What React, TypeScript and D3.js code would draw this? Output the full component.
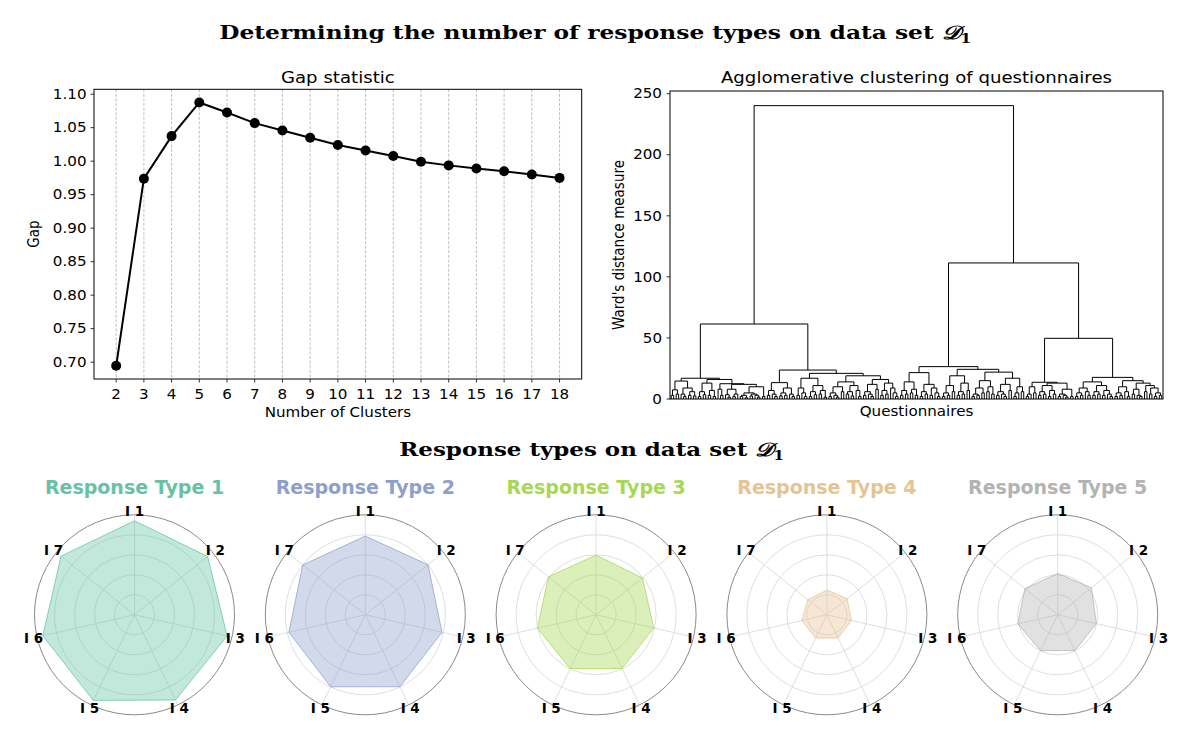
import React from "react";
import * as d3 from "d3";

const W = 1200;
const H = 744;

// ---------- Gap statistic ----------
const gapClusters = [2, 3, 4, 5, 6, 7, 8, 9, 10, 11, 12, 13, 14, 15, 16, 17, 18];
const gapValues = [0.6945, 0.9738, 1.0374, 1.0876, 1.0727, 1.0568, 1.0458, 1.0349, 1.024, 1.016, 1.0076, 0.999, 0.9937, 0.989, 0.985, 0.98, 0.975];
const gapYTicks = [0.7, 0.75, 0.8, 0.85, 0.9, 0.95, 1.0, 1.05, 1.1];

// ---------- Dendrogram (Ward) ----------
const dendroYTicks = [0, 50, 100, 150, 200, 250];
// root merge, left branch merge, right branch merge
const dendroMajorHeights = [240.2, 61.4, 111.4];
// sub-clusters written as (height left right), "o" = questionnaire leaf
const LL_A = "(14.7 (7.5 (3 o o) (4 o o)) (9 (4 o (2 o o)) (6 (3 o o) (2.5 o o))))";
const LL_B1 = "(13 (6 (2 o o) (3.5 o o)) (7 (3 o o) (2 o o)))";
const LL_B2a = "(8 o (3 o o))";
const LL_B2b1 = "(8 (3.5 o (1.5 o o)) (4 (2 o o) o))";
const LL_B2b2 = "(10 (5 (3 (2 o o) (1 o o)) (4 (2.5 o o) (3 o (1.5 o o)))) (2 o o))";
const LR_A = "(13.4 (7 (3 o o) (4 o (2 o o))) (9 (5 (2.5 o o) (3 o o)) (4 o (2 o o))))";
const LR_B1 = "(17 (9 (3 o o) (5 o (2 o o))) (11 (6 (2 o o) (3.5 o o)) (7 (4 o o) (1.5 o o))))";
const LR_B2a = "(14 (10 (5 (2 o o) (3 o (1.5 o o))) (6 o o)) (11 (6 (4 o o) (2.5 o o)) (7 o (2 o o))))";
const LR_B2b = "(16 (12 (6 (3 o o) (4 o (2 o o))) (8 o o)) (13 (7 (3 o o) (4 o o)) (9 o (5 o (2 o o)))))";
const RL_A1 = "(14 (7 (3 o o) (4 o o)) (8 (5 o o) (3 o o)))";
const RL_A2 = "(12 (6 (2 o o) (4 o o)) (9 (3 o o) (5 o (2 o o))))";
const RL_B1 = "(19 (11 (5 (2 o o) (3 o o)) (6 o o)) (13 (6 (3 o o) (4 o o)) (7 o o)))";
const RL_B2a = "(15 (9 (4 (2 o o) (3 o o)) (5 o o)) (10 (6 o o) (4 o o)))";
const RL_B2b = "(17 (12 (6 (3 o o) (4 o (2 o o))) (7 o o)) (10 (5 (2 o o) o) (6 o o)))";
const RR_A1 = "(10 (4 (2 o o) o) (5 o o))";
const RR_A2a = "(11 (6 (3 o o) (4 o o)) (7 (2 o o) (4 o o)))";
const RR_A2b = "(8 (4 (2 o o) (3 o (1.5 o o))) (2 o o))";
const RR_B1 = "(14 (9 (5 (2 o o) (3 o o)) (6 o (3 o o))) (11 (6 (3 o o) (4 o o)) (7 (3 o o) (4 o (2 o o)))))";
const RR_B2 = "(15 (10 (5 (2 o o) (3 o o)) (6 o (2 o o))) (13 (8 (4 o o) (3 o (2 o o))) (11 (6 o o) (9 (4 o o) (5 (2 o o) (3 o o))))))";

const LL = `(17 ${LL_A} (16 ${LL_B1} (12.5 ${LL_B2a} (12 ${LL_B2b1} ${LL_B2b2}))))`;
const LR = `(23.7 ${LR_A} (21 ${LR_B1} (19 ${LR_B2a} ${LR_B2b})))`;
const RL = `(26.5 (21.6 ${RL_A1} ${RL_A2}) (24.3 ${RL_B1} (22 ${RL_B2a} ${RL_B2b})))`;
const RR = `(49.7 (13.7 ${RR_A1} (13 ${RR_A2a} ${RR_A2b})) (17.7 ${RR_B1} ${RR_B2}))`;
const DENDRO_TREE = `(${dendroMajorHeights[0]} (${dendroMajorHeights[1]} ${LL} ${LR}) (${dendroMajorHeights[2]} ${RL} ${RR}))`;

// ---------- Radar charts ----------
const radarItems = ["I 1", "I 2", "I 3", "I 4", "I 5", "I 6", "I 7"];
const responseTypeNames = ["Response Type 1", "Response Type 2", "Response Type 3", "Response Type 4", "Response Type 5"];
const responseTypeColors = ["#66c2a5", "#8da0cb", "#a6d854", "#e5c494", "#b3b3b3"];
const responseType1 = [0.94, 0.935, 0.95, 0.945, 0.95, 0.94, 0.94];
const responseType2 = [0.787, 0.802, 0.787, 0.798, 0.799, 0.784, 0.8];
const responseType3 = [0.597, 0.592, 0.592, 0.595, 0.597, 0.602, 0.61];
const responseType4 = [0.247, 0.259, 0.251, 0.258, 0.258, 0.257, 0.244];
const responseType5 = [0.413, 0.432, 0.397, 0.397, 0.397, 0.409, 0.42];
const radarRings = [0.2, 0.4, 0.6, 0.8];

// ---------- helpers ----------
type TNode = { h: number; children?: [TNode, TNode]; x?: number };

function parseTree(s: string): TNode {
  const tokens = s.match(/\(|\)|[^\s()]+/g) || [];
  let i = 0;
  function node(): TNode {
    const t = tokens[i++];
    if (t === "o") return { h: 0 };
    if (t !== "(") throw new Error("bad token " + t + " at " + i);
    const h = parseFloat(tokens[i++]);
    const a = node();
    const b = node();
    if (tokens[i++] !== ")") throw new Error("expected ) at " + i);
    return { h, children: [a, b] };
  }
  const root = node();
  if (i !== tokens.length) throw new Error("trailing tokens " + (tokens.length - i));
  return root;
}

const SX = 1.12; // horizontal stretch of the upper figure's text
const SANS = "DejaVu Sans";

function SText(props: {
  x: number; y: number; anchor?: string; size?: number; rot?: boolean; baseline?: string; children: React.ReactNode; weight?: string;
}) {
  const { x, y, anchor = "middle", size = 13.5, rot = false, baseline, children, weight } = props;
  return (
    <text
      transform={`translate(${x},${y}) scale(${SX},1)${rot ? " rotate(-90)" : ""}`}
      textAnchor={anchor as any}
      dominantBaseline={baseline as any}
      fontSize={size}
      fontFamily={SANS}
      fontWeight={weight}
      fill="#000"
    >
      {children}
    </text>
  );
}

function GapChart() {
  const left = 94, right = 581.7, top = 89.3, bottom = 379;
  const [xmin, xmax] = d3.extent(gapClusters) as [number, number];
  const [ymin, ymax] = d3.extent(gapValues) as [number, number];
  const xm = (xmax - xmin) * 0.05;
  const ym = (ymax - ymin) * 0.05;
  const x = d3.scaleLinear().domain([xmin - xm, xmax + xm]).range([left, right]);
  const y = d3.scaleLinear().domain([ymin - ym, ymax + ym]).range([bottom, top]);
  const line = d3.line<number>().x((_, i) => x(gapClusters[i])).y((d) => y(d));
  const fmt = d3.format(".2f");
  return (
    <g>
      {gapClusters.map((c) => (
        <line key={"g" + c} x1={x(c)} x2={x(c)} y1={top} y2={bottom} stroke="#b0b0b0" strokeWidth={0.8} strokeDasharray="3,1.6" />
      ))}
      <path d={line(gapValues) || ""} fill="none" stroke="#000" strokeWidth={2} />
      {gapValues.map((v, i) => (
        <circle key={"m" + i} cx={x(gapClusters[i])} cy={y(v)} r={5} fill="#000" />
      ))}
      <rect x={left} y={top} width={right - left} height={bottom - top} fill="none" stroke="#000" strokeWidth={1} />
      {gapClusters.map((c) => (
        <g key={"xt" + c}>
          <line x1={x(c)} x2={x(c)} y1={bottom} y2={bottom + 3.5} stroke="#000" strokeWidth={0.8} />
          <SText x={x(c)} y={398.5}>{String(c)}</SText>
        </g>
      ))}
      {gapYTicks.map((t) => (
        <g key={"yt" + t}>
          <line x1={left - 3.5} x2={left} y1={y(t)} y2={y(t)} stroke="#000" strokeWidth={0.8} />
          <SText x={86.5} y={y(t)} anchor="end" baseline="central">{fmt(t)}</SText>
        </g>
      ))}
      <SText x={(left + right) / 2} y={82.5} size={16.2}>Gap statistic</SText>
      <SText x={(left + right) / 2} y={416.5}>Number of Clusters</SText>
      <SText x={39} y={(top + bottom) / 2} rot>Gap</SText>
    </g>
  );
}

function Dendrogram() {
  const left = 670, right = 1163, top = 91, bottom = 399;
  const root = parseTree(DENDRO_TREE);
  const leaves: TNode[] = [];
  const collect = (n: TNode) => {
    if (!n.children) leaves.push(n);
    else { collect(n.children[0]); collect(n.children[1]); }
  };
  collect(root);
  const n = leaves.length;
  const x = d3.scaleLinear().domain([0, 10 * n]).range([left, right]);
  const y = d3.scaleLinear().domain([0, 252.2]).range([bottom, top]);
  leaves.forEach((l, i) => (l.x = x(5 + 10 * i)));
  const paths: string[] = [];
  const place = (nd: TNode): number => {
    if (!nd.children) return nd.x as number;
    const xa = place(nd.children[0]);
    const xb = place(nd.children[1]);
    nd.x = (xa + xb) / 2;
    paths.push(`M${xa},${y(nd.children[0].h)}V${y(nd.h)}H${xb}V${y(nd.children[1].h)}`);
    return nd.x;
  };
  place(root);
  return (
    <g>
      <path d={paths.join("")} fill="none" stroke="#000" strokeWidth={1} />
      <rect x={left} y={top} width={right - left} height={bottom - top} fill="none" stroke="#000" strokeWidth={1} />
      {dendroYTicks.map((t) => (
        <g key={"dy" + t}>
          <line x1={left - 3.5} x2={left} y1={y(t)} y2={y(t)} stroke="#000" strokeWidth={0.8} />
          <SText x={662} y={y(t)} anchor="end" baseline="central">{String(t)}</SText>
        </g>
      ))}
      <SText x={(left + right) / 2} y={82.5} size={16.2}>Agglomerative clustering of questionnaires</SText>
      <SText x={(left + right) / 2} y={416}>Questionnaires</SText>
      <SText x={623.8} y={(top + bottom) / 2} rot>Ward's distance measure</SText>
    </g>
  );
}

function Radar(props: { cx: number; cy: number; values: number[]; color: string; name: string }) {
  const { cx, cy, values, color, name } = props;
  const r = d3.scaleLinear().domain([0, 1]).range([0, 100]);
  const k = values.length;
  const ang = (i: number) => (i * 2 * Math.PI) / k;
  const radial = d3
    .lineRadial<number>()
    .angle((_, i) => ang(i))
    .radius((d) => r(d))
    .curve(d3.curveLinearClosed);
  return (
    <g>
      <g transform={`translate(${cx},${cy})`}>
        {radarRings.map((g) => (
          <circle key={"r" + g} r={r(g)} fill="none" stroke="#dadada" strokeWidth={0.9} />
        ))}
        {radarItems.map((_, i) => (
          <line key={"s" + i} x1={0} y1={0} x2={r(1) * Math.sin(ang(i))} y2={-r(1) * Math.cos(ang(i))} stroke="#dadada" strokeWidth={0.9} />
        ))}
        <path d={radial(values) || ""} fill={color} fillOpacity={0.4} stroke={color} strokeOpacity={0.75} strokeWidth={1} />
        <circle r={r(1)} fill="none" stroke="#8a8a8a" strokeWidth={1} />
        {radarItems.map((lab, i) => (
          <text
            key={"l" + i}
            x={103.5 * Math.sin(ang(i))}
            y={-103.5 * Math.cos(ang(i))}
            textAnchor="middle"
            dominantBaseline="central"
            fontFamily={SANS}
            fontWeight="bold"
            fontSize={13.5}
            fill="#000"
          >
            {lab}
          </text>
        ))}
      </g>
      <text x={cx} y={494} textAnchor="middle" fontFamily={SANS} fontWeight="bold" fontSize={19} fill={color}>
        {name}
      </text>
    </g>
  );
}

export default function App() {
  const series = [responseType1, responseType2, responseType3, responseType4, responseType5];
  const centers = responseTypeNames.map((_, i) => 134.5 + 230.8 * i);
  return (
    <svg width={W} height={H} viewBox={`0 0 ${W} ${H}`} style={{ position: "absolute", left: 0, top: 0, background: "#fff" }}>
      <rect x={0} y={0} width={W} height={H} fill="#fff" />
      <text x={219.3} y={39.3} textLength={752} lengthAdjust="spacingAndGlyphs" fontFamily="DejaVu Serif" fontWeight="bold" fontSize={19} fill="#000">
        Determining the number of response types on data set <tspan fontStyle="italic">𝒟</tspan>
        <tspan dy={4} fontSize={13}>1</tspan>
      </text>
      <text x={399.3} y={455.7} textLength={385} lengthAdjust="spacingAndGlyphs" fontFamily="DejaVu Serif" fontWeight="bold" fontSize={19} fill="#000">
        Response types on data set <tspan fontStyle="italic">𝒟</tspan>
        <tspan dy={4} fontSize={13}>1</tspan>
      </text>
      <GapChart />
      <Dendrogram />
      {series.map((vals, i) => (
        <Radar key={i} cx={centers[i]} cy={614.8} values={vals} color={responseTypeColors[i]} name={responseTypeNames[i]} />
      ))}
    </svg>
  );
}
